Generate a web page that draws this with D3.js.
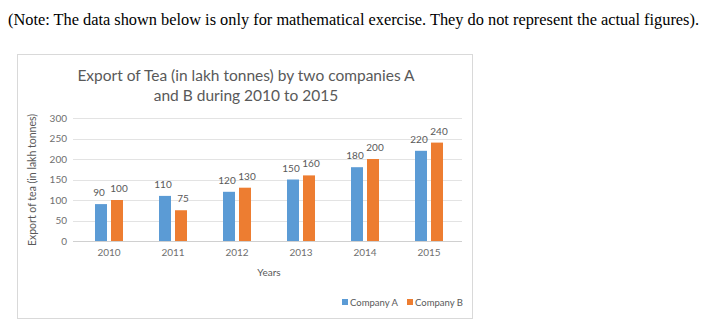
<!DOCTYPE html>
<html>
<head>
<meta charset="utf-8">
<script src="https://cdn.jsdelivr.net/npm/d3@7"></script>
<style>
  html, body { margin: 0; padding: 0; background: #fff; }
  svg { display: block; }
</style>
</head>
<body>
<svg id="chart" width="707" height="333"></svg>
<script>
// data
var years = ["2010", "2011", "2012", "2013", "2014", "2015"];
var companyA = [90, 110, 120, 150, 180, 220];
var companyB = [100, 75, 130, 160, 200, 240];
var seriesNames = ["Company A", "Company B"];
var yTicks = [0, 50, 100, 150, 200, 250, 300];

var colors = ["#5b9bd5", "#ed7d31"];
var grey = "#595959";
var font = "Lato, 'Open Sans', sans-serif";

var svg = d3.select("#chart");

// note above the chart
svg.append("text")
  .attr("x", 8).attr("y", 25)
  .attr("font-family", "'Liberation Serif', 'Times New Roman', serif")
  .attr("font-size", 16)
  .attr("textLength", 691)
  .attr("lengthAdjust", "spacingAndGlyphs")
  .attr("fill", "#000")
  .text("(Note: The data shown below is only for mathematical exercise. They do not represent the actual figures).");

// chart frame
svg.append("rect")
  .attr("x", 17.5).attr("y", 54.5)
  .attr("width", 455).attr("height", 264)
  .attr("fill", "#fff")
  .attr("stroke", "#d9d9d9");

// title
var title = svg.append("text")
  .attr("text-anchor", "middle")
  .attr("font-family", font)
  .attr("font-size", 15.5)
  .attr("fill", grey);
title.append("tspan").attr("x", 246).attr("y", 81).text("Export of Tea (in lakh tonnes) by two companies A");
title.append("tspan").attr("x", 246).attr("y", 101).text("and B during 2010 to 2015");

var x = d3.scaleBand().domain(years).range([77, 461]);
var inner = d3.scaleBand().domain(seriesNames).range([-16, 16]).paddingInner(0.25).paddingOuter(0.125);
var y = d3.scaleLinear().domain([0, 300]).range([241, 118]);

// gridlines
svg.append("g").selectAll("line")
  .data(yTicks)
  .enter().append("line")
  .attr("x1", 73).attr("x2", 462)
  .attr("y1", function(d) { return Math.round(y(d)) + 0.5; })
  .attr("y2", function(d) { return Math.round(y(d)) + 0.5; })
  .attr("stroke", function(d) { return d === 0 ? "#d0d0d0" : "#e3e3e3"; });

// y axis labels
var yAxis = svg.append("g")
  .attr("transform", "translate(73,0)")
  .call(d3.axisLeft(y).tickValues(yTicks).tickSize(0).tickPadding(6));
yAxis.select(".domain").remove();
yAxis.selectAll("text")
  .attr("font-family", font).attr("font-size", 10).attr("fill", "#6f6f6f");

// x axis labels
var xAxis = svg.append("g")
  .attr("transform", "translate(0,241)")
  .call(d3.axisBottom(x).tickSize(0).tickPadding(8));
xAxis.select(".domain").remove();
xAxis.selectAll("text")
  .attr("font-family", font).attr("font-size", 10).attr("fill", "#6f6f6f");

// bars
var rows = years.map(function(yr, i) {
  return { year: yr, values: [
    { name: seriesNames[0], value: companyA[i], color: colors[0] },
    { name: seriesNames[1], value: companyB[i], color: colors[1] }
  ] };
});

var groups = svg.append("g").selectAll("g")
  .data(rows)
  .enter().append("g")
  .attr("transform", function(d) { return "translate(" + (x(d.year) + x.bandwidth() / 2) + ",0)"; });

groups.selectAll("rect")
  .data(function(d) { return d.values; })
  .enter().append("rect")
  .attr("x", function(d) { return inner(d.name); })
  .attr("width", inner.bandwidth())
  .attr("y", function(d) { return y(d.value); })
  .attr("height", function(d) { return y(0) - y(d.value); })
  .attr("fill", function(d) { return d.color; });

groups.selectAll("text")
  .data(function(d) { return d.values; })
  .enter().append("text")
  .attr("x", function(d, i) { return inner(d.name) + inner.bandwidth() / 2 + (i === 0 ? -2 : 2); })
  .attr("y", function(d) { return y(d.value) - 8; })
  .attr("text-anchor", "middle")
  .attr("font-family", font).attr("font-size", 10).attr("fill", grey)
  .text(function(d) { return d.value; });

// axis titles
svg.append("text")
  .attr("x", 269).attr("y", 276)
  .attr("text-anchor", "middle")
  .attr("font-family", font).attr("font-size", 10).attr("fill", grey)
  .text("Years");

svg.append("text")
  .attr("transform", "translate(36,180) rotate(-90)")
  .attr("text-anchor", "middle")
  .attr("font-family", font).attr("font-size", 10.5).attr("fill", grey)
  .text("Export of tea (in lakh tonnes)");

// legend
var legend = svg.append("g").selectAll("g")
  .data(seriesNames)
  .enter().append("g")
  .attr("transform", function(d, i) { return "translate(" + (342 + i * 65) + ",302)"; });
legend.append("rect")
  .attr("x", 0).attr("y", -3).attr("width", 6).attr("height", 6)
  .attr("fill", function(d, i) { return colors[i]; });
legend.append("text")
  .attr("x", 8).attr("y", 3.5)
  .attr("font-family", font).attr("font-size", 9.5).attr("fill", grey)
  .text(function(d) { return d; });
</script>
</body>
</html>
